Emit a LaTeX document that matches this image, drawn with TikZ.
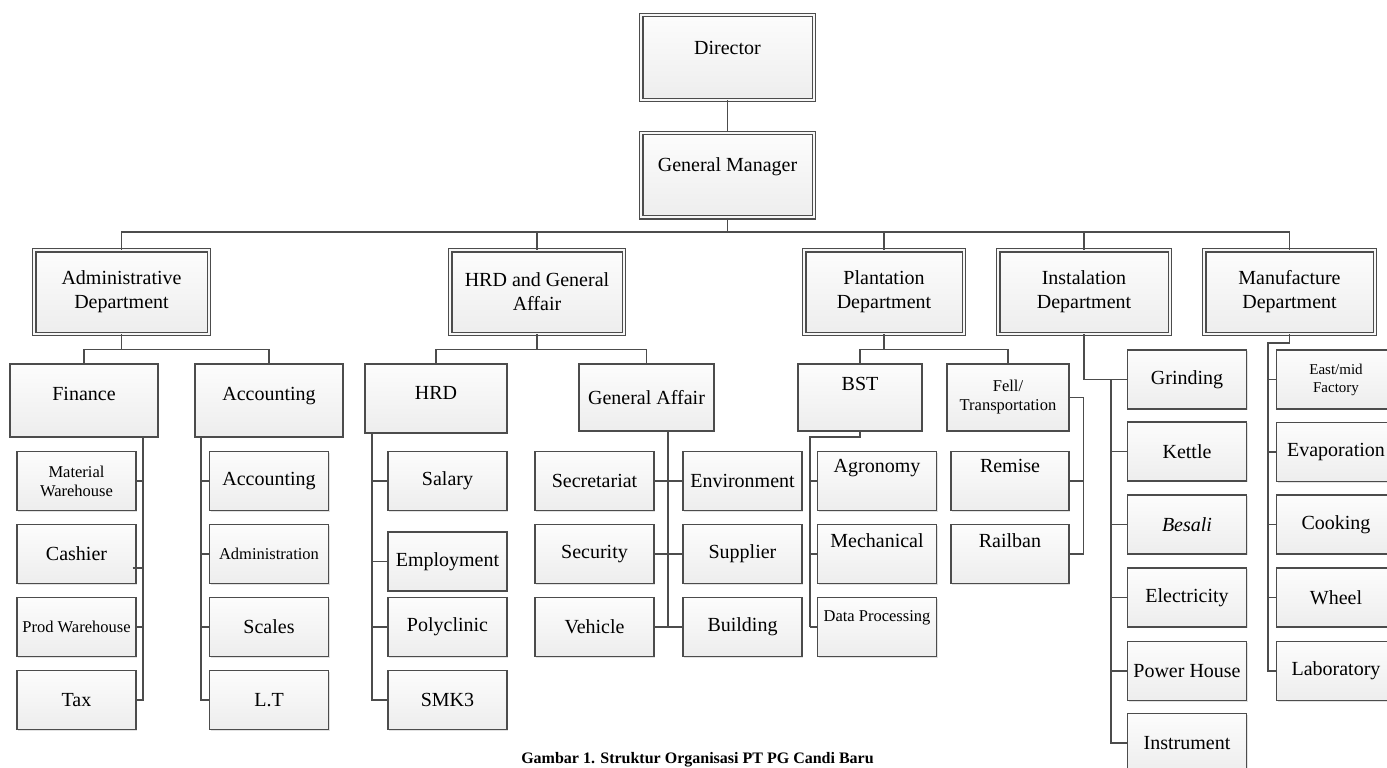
\documentclass[tikz,border=0pt]{standalone}
\usepackage{fontspec}
\setmainfont{Liberation Serif}
\usepackage{tikz}
\usetikzlibrary{shadows}

\begin{document}
\begin{tikzpicture}[
    x=1pt, y=-1pt,
    boxbase/.style={rectangle, draw=black!70, top color=gray!2, bottom color=gray!14, align=center, inner sep=1pt, font=\fontsize{20}{24}\selectfont, drop shadow={shadow xshift=1.2pt, shadow yshift=-1.2pt, fill=gray!45}},
    headbox/.style={boxbase, line width=1.1pt, double=gray!6, double distance=2.3pt},
    unitbox/.style={boxbase, line width=1.4pt},
    subbox/.style={unitbox, minimum width=119pt, minimum height=59pt},
    small/.style={font=\fontsize{16.5}{19}\selectfont},
    raised/.style={text depth=#1},
    link/.style={draw=black!70, line width=1.35pt}
]
\useasboundingbox (0,0) rectangle (1387,768);
\clip (0,0) rectangle (1387,768);
\fill[white] (0,0) rectangle (1387,768);

\node[headbox, minimum width=172.5pt, minimum height=84.5pt, raised=20pt] (dir) at (727.5,57.5) {Director};
\node[headbox, minimum width=172.5pt, minimum height=84.5pt, raised=20pt] (gm) at (727.5,175) {General Manager};

\node[headbox, minimum width=174.5pt, minimum height=83.5pt] (adm) at (121.5,292) {Administrative\\Department};
\node[headbox, minimum width=173.5pt, minimum height=83.5pt] (hga) at (537,292) {HRD and General\\Affair};
\node[headbox, minimum width=159.5pt, minimum height=83.5pt] (pla) at (884,292) {Plantation\\Department};
\node[headbox, minimum width=171.5pt, minimum height=83.5pt] (ins) at (1084,292) {Instalation\\Department};
\node[headbox, minimum width=170.5pt, minimum height=83.5pt] (man) at (1289.5,292) {Manufacture\\Department};

\node[unitbox, minimum width=148pt, minimum height=73pt, raised=14pt] (fin) at (84,400.5) {Finance};
\node[unitbox, minimum width=148pt, minimum height=73pt, raised=14pt] (acc) at (269,400.5) {Accounting};
\node[unitbox, minimum width=142pt, minimum height=69pt, raised=12pt] (hrd) at (436,398.5) {HRD};
\node[unitbox, minimum width=135pt, minimum height=67pt] (gaf) at (646.5,397.5) {General Affair};
\node[unitbox, minimum width=124pt, minimum height=67pt, raised=27pt] (bst) at (860,397.5) {BST};
\node[unitbox, small, minimum width=122pt, minimum height=67pt] (fell) at (1008,397.5) {Fell/\\Transportation};

\node[subbox, small] (mat) at (76.5,481) {Material\\Warehouse};
\node[subbox] (cash) at (76.5,554) {Cashier};
\node[subbox, small] (prod) at (76.5,627) {Prod Warehouse};
\node[subbox] (tax) at (76.5,700) {Tax};

\node[subbox] (acc2) at (269,481) {Accounting};
\node[subbox, small] (adm2) at (269,554) {Administration};
\node[subbox] (sca) at (269,627) {Scales};
\node[subbox] (lt) at (269,700) {L.T};

\node[subbox] (sal) at (447.5,481) {Salary};
\node[subbox] (emp) at (447.5,561.5) {Employment};
\node[subbox] (pol) at (447.5,627) {Polyclinic};
\node[subbox] (smk) at (447.5,700) {SMK3};

\node[subbox] (sec) at (594.5,481) {Secretariat};
\node[subbox] (env) at (742.5,481) {Environment};
\node[subbox] (secu) at (594.5,554) {Security};
\node[subbox] (sup) at (742.5,554) {Supplier};
\node[subbox] (veh) at (594.5,627) {Vehicle};
\node[subbox] (bui) at (742.5,627) {Building};

\node[subbox, raised=30pt] (agr) at (877,481) {Agronomy};
\node[subbox, raised=26pt] (mec) at (877,554) {Mechanical};
\node[subbox, small, raised=22pt] (dat) at (877,627) {Data Processing};

\node[subbox, minimum width=118pt, raised=30pt] (rem) at (1010,481) {Remise};
\node[subbox, minimum width=118pt, raised=26pt] (rai) at (1010,554) {Railban};

\node[subbox] (gri) at (1187,379.5) {Grinding};
\node[subbox] (ket) at (1187,451.5) {Kettle};
\node[subbox] (bes) at (1187,524.5) {\textit{Besali}};
\node[subbox] (ele) at (1187,597.5) {Electricity};
\node[subbox] (pow) at (1187,671) {Power House};
\node[subbox] (instr) at (1187,743) {Instrument};

\node[subbox, font=\fontsize{15}{18}\selectfont] (eas) at (1336,379.5) {East/mid\\Factory};
\node[subbox] (eva) at (1336,452) {Evaporation};
\node[subbox] (coo) at (1336,524.5) {Cooking};
\node[subbox] (whe) at (1336,597.5) {Wheel};
\node[subbox] (lab) at (1336,671) {Laboratory};

\node[font=\bfseries\fontsize{16}{19}\selectfont, anchor=base] (cap) at (697.5,763) {Gambar 1. Struktur Organisasi PT PG Candi Baru};

\draw[link] (dir) -- (gm);
\coordinate (bus) at (727.5,232);
\draw[link] (gm) -- (bus);
\foreach \d in {adm,hga,pla,ins,man}
    \draw[link] (bus) -| (\d.north);

\foreach \p/\a/\b in {adm/fin/acc, hga/hrd/gaf, pla/bst/fell} {
    \draw[link] (\p.south) -- ++(0,15) coordinate (\p-j) -| (\a.north);
    \draw[link] (\p-j) -| (\b.north);
}

\coordinate (finv) at (143,437);
\draw[link] (finv) |- (tax.east);
\foreach \c in {mat,prod}
    \draw[link] (\c.east) -- (\c.east -| finv);
\draw[link] ([xshift=-4pt,yshift=-14pt]cash.east) -- ++(11,0);

\coordinate (accv) at (201,437);
\draw[link] (accv) |- (lt.west);
\foreach \c in {acc2,adm2,sca}
    \draw[link] (\c.west -| accv) -- (\c.west);

\coordinate (hrdv) at (372,433);
\draw[link] (hrdv) |- (smk.west);
\foreach \c in {sal,emp,pol}
    \draw[link] (\c.west -| hrdv) -- (\c.west);

\coordinate (gafv) at (668,431);
\draw[link] (gafv) -- (gafv |- veh.east);
\draw[link] (sec.east) -- (env.west);
\draw[link] (secu.east) -- (sup.west);
\draw[link] (veh.east) -- (bui.west);

\coordinate (bstv) at (810,437);
\draw[link] (bst.south) |- (bstv) -- (bstv |- dat.west);
\foreach \c in {agr,mec,dat}
    \draw[link] (bstv |- \c.west) -- (\c.west);

\draw[link] (fell.east) -- ++(14,0) coordinate (fellv) -- (fellv |- rai.east) -- (rai.east);
\draw[link] (rem.east) -- (rem.east -| fellv);

\draw[link] (ins.south) |- (gri.west);
\coordinate (insv) at (1111,379.5);
\draw[link] (insv) |- (instr.west);
\foreach \c in {ket,bes,ele,pow}
    \draw[link] (\c.west -| insv) -- (\c.west);

\coordinate (manv) at (1268,343);
\draw[link] (man.south) |- (manv) |- (lab.west);
\foreach \c in {eas,eva,coo,whe}
    \draw[link] (\c.west -| manv) -- (\c.west);

\end{tikzpicture}
\end{document}
